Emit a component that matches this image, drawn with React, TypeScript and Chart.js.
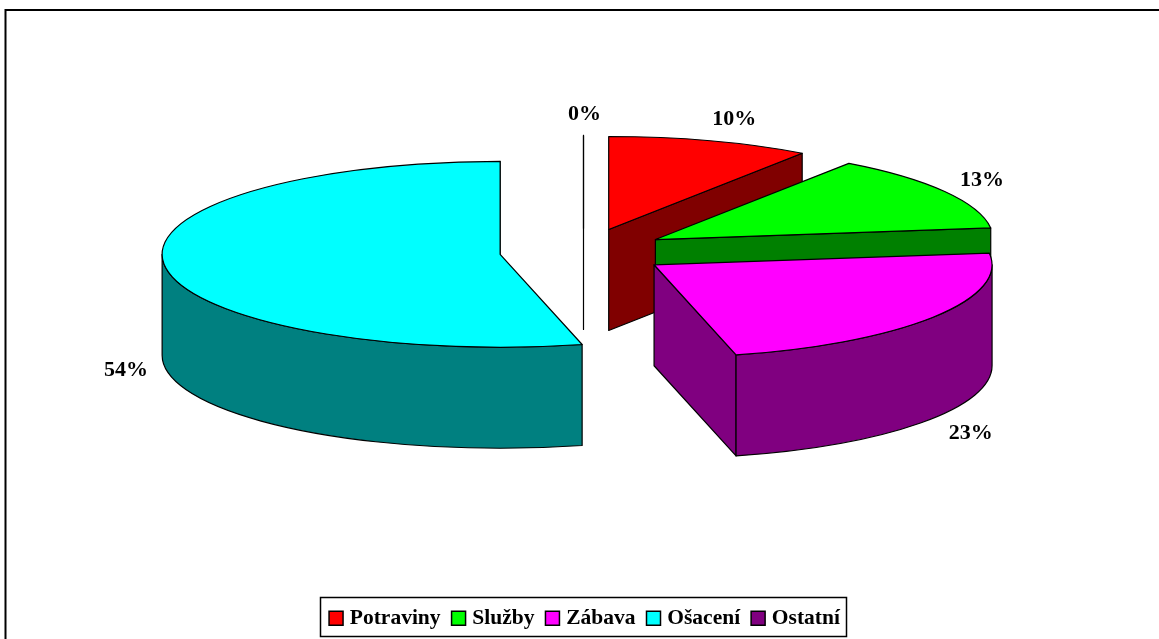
import React, { useEffect, useRef } from "react";
import { Chart, registerables } from "chart.js";

Chart.register(...registerables);

const categories = ["Potraviny", "Služby", "Zábava", "Ošacení", "Ostatní"];
const shares = [9.7, 13.3, 23.1, 53.9, 0];
const explodeDistances = [84, 84, 85.5, 84, 84];
const topColors = ["#FF0000", "#00FF00", "#FF00FF", "#00FFFF", "#800080"];
const sideColors = ["#800000", "#008000", "#800080", "#008080", "#400040"];
const labelNudgeX = [10, -3, -1, 8, 1];
const labelNudgeY = [-9, -4, 8, 2, -8];

const FONT = '"Liberation Serif", "Times New Roman", serif';
const PIE_RADIUS = 338;
const RATIO = 0.275;
const DEPTH = 101;
const CENTER_X = 583.5;
const CENTER_Y = 251.5;
const LABEL_RADIUS = 385;
const LEGEND_FRAME = { left: 320, top: 597, right: 846, bottom: 636 };

const pie3d = {
  id: "pie3d",
  beforeDraw(chart: any) {
    const { ctx, width, height } = chart;
    ctx.save();
    ctx.fillStyle = "#FFFFFF";
    ctx.fillRect(0, 0, width, height);
    ctx.strokeStyle = "#000000";
    ctx.lineWidth = 2;
    ctx.beginPath();
    ctx.moveTo(5.5, height);
    ctx.lineTo(5.5, 10);
    ctx.lineTo(width, 10);
    ctx.stroke();
    ctx.restore();
  },
  beforeDatasetsDraw(chart: any) {
    const { ctx } = chart;
    const meta = chart.getDatasetMeta(0);
    ctx.save();
    ctx.lineWidth = 1.2;
    ctx.lineJoin = "round";
    ctx.strokeStyle = "#000000";
    meta.data.forEach((el: any, i: number) => {
      const a0 = el.startAngle;
      const a1 = el.endAngle;
      const mid = (a0 + a1) / 2;
      const r = el.outerRadius;
      const off = el.options.offset;
      const ax = CENTER_X + off * Math.cos(mid);
      const ay = CENTER_Y + off * RATIO * Math.sin(mid);
      const rim = (a: number) => [ax + r * Math.cos(a), ay + r * RATIO * Math.sin(a)];

      // radial walls that face the viewer
      ctx.fillStyle = sideColors[i];
      const walls: number[] = [];
      if (Math.cos(a0) < -1e-9) walls.push(a0);
      if (Math.cos(a1) >= -1e-9) walls.push(a1);
      walls.forEach((a: number) => {
        const [x, y] = rim(a);
        ctx.beginPath();
        ctx.moveTo(ax, ay);
        ctx.lineTo(x, y);
        ctx.lineTo(x, y + DEPTH);
        ctx.lineTo(ax, ay + DEPTH);
        ctx.closePath();
        ctx.fill();
        ctx.stroke();
      });

      // curved front wall
      const f0 = Math.max(a0, 0);
      const f1 = Math.min(a1, Math.PI);
      if (f1 > f0) {
        ctx.beginPath();
        ctx.ellipse(ax, ay, r, r * RATIO, 0, f0, f1, false);
        ctx.ellipse(ax, ay + DEPTH, r, r * RATIO, 0, f1, f0, true);
        ctx.closePath();
        ctx.fill();
        ctx.stroke();
      }

      // top face
      ctx.fillStyle = topColors[i];
      ctx.beginPath();
      ctx.moveTo(ax, ay);
      ctx.ellipse(ax, ay, r, r * RATIO, 0, a0, a1, false);
      ctx.closePath();
      ctx.fill();
      ctx.stroke();
    });

    // percentage labels
    ctx.fillStyle = "#000000";
    ctx.font = `bold 22px ${FONT}`;
    ctx.textAlign = "center";
    ctx.textBaseline = "middle";
    meta.data.forEach((el: any, i: number) => {
      const mid = (el.startAngle + el.endAngle) / 2;
      const off = el.options.offset;
      const ax = CENTER_X + off * Math.cos(mid);
      const ay = CENTER_Y + off * RATIO * Math.sin(mid);
      const front = Math.sin(mid) > 0 ? DEPTH : 0;
      const x = ax + LABEL_RADIUS * Math.cos(mid) + labelNudgeX[i];
      const y = ay + LABEL_RADIUS * RATIO * Math.sin(mid) + front + labelNudgeY[i];
      ctx.fillText(`${Math.round(shares[i])}%`, x, y);
    });
    ctx.restore();
    return false;
  },
  afterDraw(chart: any) {
    const { ctx } = chart;
    const f = LEGEND_FRAME;
    ctx.save();
    ctx.strokeStyle = "#000000";
    ctx.lineWidth = 1.5;
    ctx.strokeRect(f.left + 0.5, f.top + 0.5, f.right - f.left, f.bottom - f.top);
    ctx.restore();
  },
};

export default function App() {
  const ref = useRef<HTMLCanvasElement | null>(null);
  useEffect(() => {
    if (!ref.current) return;
    const baseLabels = (Chart as any).overrides.pie.plugins.legend.labels.generateLabels;
    const chart = new Chart(ref.current, {
      type: "pie",
      data: {
        labels: categories,
        datasets: [
          {
            data: shares,
            backgroundColor: topColors,
            borderColor: "#000000",
            borderWidth: 1,
            offset: explodeDistances,
            radius: PIE_RADIUS,
          } as any,
        ],
      },
      options: {
        responsive: false,
        animation: false,
        layout: { padding: { left: 14, right: 0, top: 10, bottom: 0 } },
        plugins: {
          tooltip: { enabled: false },
          legend: {
            position: "bottom",
            labels: {
              color: "#000000",
              font: { family: FONT, size: 21.5, weight: "bold" },
              usePointStyle: true,
              pointStyle: "rect",
              boxWidth: 6,
              boxHeight: 14,
              padding: 15,
              generateLabels: (c: any) =>
                baseLabels(c).map((item: any) => ({ ...item, pointStyle: "rect", lineWidth: 1.5 })),
            },
          },
        },
      },
      plugins: [pie3d],
    } as any);
    return () => chart.destroy();
  }, []);
  return (
    <div style={{ position: "fixed", left: 0, top: 0, width: 1159, height: 639 }}>
      <canvas ref={ref} width={1159} height={639} style={{ display: "block" }} />
    </div>
  );
}
